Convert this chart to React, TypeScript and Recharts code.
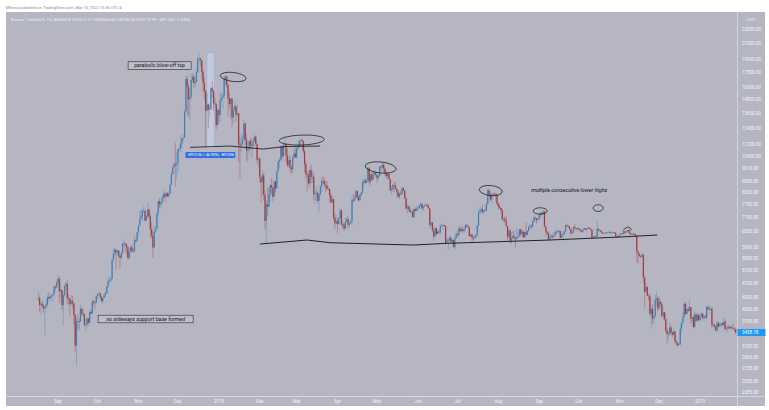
import React from "react";
import {
  ComposedChart,
  Bar,
  XAxis,
  YAxis,
  ReferenceArea,
  ReferenceLine,
  ReferenceDot,
} from "recharts";

// BTC/USDT daily, Binance, 17 Aug 2017 -> 28 Jan 2019 (day 0 = 17 Aug 2017)
const firstOpen = 4261;

const closes = [
  [4285, 4108, 4139, 4086, 4016, 4040, 4114, 4316, 4280, 4337, 4347, 4390, 4597, 4583, 4735],
  [4834, 4472, 4509, 4100, 4366, 4619, 4691, 4282, 4258, 4130, 4208, 4150, 3857, 3189, 3700, 3714, 3700, 4010, 3900, 3872, 3630, 3632, 3776, 3675, 3928, 3892, 4200, 4174, 4163, 4338],
  [4403, 4409, 4310, 4208, 4292, 4369, 4423, 4611, 4772, 4781, 4826, 5447, 5640, 5800, 5710, 5760, 5595, 5512, 5683, 6010, 6024, 5982, 5904, 5510, 5730, 5888, 5767, 5732, 6153, 6130, 6468],
  [6740, 7030, 7161, 7390, 7390, 6960, 7130, 7459, 7143, 6590, 6339, 5878, 6500, 6602, 7281, 7850, 7700, 7790, 8040, 8200, 8071, 8250, 8100, 8234, 8700, 9283, 9719, 9892, 9850, 9940],
  [10860, 10912, 11246, 11623, 11667, 13750, 16850, 16048, 14842, 15059, 16733, 17083, 16391, 16530, 17600, 19100, 19140, 18950, 17600, 16460, 15630, 13800, 14350, 13900, 13960, 15900, 15600, 14460, 14380, 12630, 13880],
  [13440, 14750, 15000, 15170, 16950, 17100, 16200, 14900, 14400, 14910, 13240, 13840, 14190, 13470, 13580, 11180, 11120, 11260, 11550, 12760, 11530, 10780, 10840, 11420, 11170, 11090, 11410, 11750, 11210, 10180, 10230],
  [9110, 8830, 9220, 8180, 6940, 7700, 7580, 8240, 8680, 8540, 8070, 8880, 8500, 9450, 10030, 10170, 11060, 10380, 11150, 11220, 10440, 9830, 10150, 9700, 9590, 10320, 10570, 10330],
  [10920, 11020, 11440, 11500, 11430, 10720, 9910, 9300, 9230, 8770, 9530, 9130, 9150, 8200, 8250, 8270, 7870, 8200, 8600, 8900, 8890, 8710, 8660, 8470, 8470, 8130, 7790, 7950, 7090, 6840, 6930],
  [6810, 7060, 7420, 6790, 6780, 6620, 6900, 7020, 6770, 6830, 6940, 7920, 7890, 8000, 8360, 8050, 7890, 8160, 8290, 8850, 8920, 8800, 8930, 9650, 8870, 9280, 8990, 9340, 9390, 9240],
  [9070, 9220, 9740, 9700, 9860, 9620, 9360, 9180, 9310, 9010, 8410, 8470, 8680, 8660, 8480, 8340, 8070, 8240, 8230, 8520, 8390, 7990, 7500, 7580, 7460, 7330, 7350, 7110, 7470, 7390, 7490],
  [7520, 7640, 7720, 7500, 7620, 7650, 7680, 7620, 7500, 6760, 6870, 6530, 6300, 6640, 6390, 6490, 6450, 6710, 6740, 6760, 6720, 6050, 6140, 6150, 6250, 6090, 6160, 5900, 6220, 6390],
  [6360, 6620, 6510, 6590, 6530, 6600, 6760, 6710, 6660, 6310, 6380, 6250, 6220, 6270, 6360, 6740, 7320, 7380, 7470, 7330, 7400, 7400, 7720, 8400, 8170, 7930, 8180, 8230, 8220, 8180, 7730],
  [7600, 7530, 7410, 7010, 7030, 6940, 6720, 6290, 6530, 6140, 6230, 6320, 6250, 6190, 6270, 6310, 6580, 6390, 6490, 6260, 6470, 6360, 6530, 6690, 6730, 6700, 6910, 7090, 7050, 6980, 7020],
  [7190, 7280, 7260, 7360, 6700, 6500, 6410, 6180, 6250, 6320, 6300, 6330, 6480, 6480, 6520, 6500, 6250, 6350, 6390, 6490, 6760, 6720, 6700, 6590, 6420, 6460, 6680, 6640, 6610, 6630],
  [6590, 6520, 6480, 6580, 6630, 6570, 6600, 6650, 6620, 6580, 6250, 6290, 6310, 6290, 6610, 6550, 6530, 6470, 6420, 6430, 6450, 6460, 6460, 6480, 6440, 6440, 6460, 6450, 6310, 6290, 6310],
  [6380, 6420, 6400, 6510, 6450, 6500, 6550, 6460, 6380, 6400, 6410, 6370, 6310, 5740, 5650, 5580, 5550, 5620, 4870, 4460, 4600, 4350, 4330, 3880, 4010, 3770, 3820, 4250, 4280, 4020],
  [4190, 4140, 3840, 3930, 3760, 3500, 3420, 3440, 3570, 3460, 3410, 3480, 3270, 3240, 3200, 3210, 3540, 3680, 3810, 4140, 3880, 4000, 3960, 4050, 3770, 3800, 3580, 3870, 3720, 3860, 3740],
  [3830, 3890, 3790, 3820, 3790, 4060, 4000, 4000, 4010, 3630, 3630, 3590, 3500, 3670, 3590, 3630, 3660, 3620, 3700, 3530, 3550, 3580, 3550, 3580, 3560, 3550, 3530, 3458.18],
].flat();

const highs = [
  [4485, 4371, 4184, 4211, 4119, 4104, 4265, 4371, 4453, 4367, 4400, 4399, 4625, 4646, 4770],
  [4939, 4892, 4714, 4527, 4484, 4662, 4745, 4789, 4394, 4299, 4370, 4340, 4172, 3876, 3800, 3884, 3775, 4120, 4050, 4010, 3900, 3750, 3809, 3780, 3970, 3990, 4228, 4240, 4190, 4360],
  [4403, 4470, 4432, 4358, 4340, 4420, 4460, 4628, 4870, 4920, 4880, 5450, 5853, 5840, 5800, 5800, 5770, 5570, 5700, 6070, 6200, 6050, 6050, 5860, 5760, 5950, 5980, 5850, 6345, 6190, 6470],
  [6770, 7375, 7450, 7480, 7600, 7440, 7200, 7780, 7380, 7282, 6870, 6500, 6740, 6700, 7299, 7880, 8000, 7850, 8100, 8300, 8370, 8300, 8300, 8350, 8780, 9430, 9750, 10000, 11300, 10630],
  [10900, 11140, 11830, 11650, 11900, 13850, 17170, 17200, 16300, 15800, 17400, 17500, 17300, 16900, 17900, 19200, 19798, 19200, 18800, 17900, 17000, 15700, 15400, 14400, 14500, 16100, 16600, 15700, 15000, 14500, 14000],
  [13900, 15500, 15400, 15400, 17170, 17250, 17200, 16300, 15400, 14950, 14900, 14100, 14650, 14300, 14350, 13600, 11700, 12000, 11850, 13000, 12750, 11900, 11350, 11500, 11700, 11600, 11600, 12000, 11800, 11270, 10380],
  [10300, 9100, 9500, 9380, 8400, 7880, 8560, 8560, 8730, 9080, 8550, 8950, 8880, 9500, 10200, 10300, 11100, 11080, 11250, 11780, 11300, 10900, 10400, 10500, 9800, 10400, 10900, 11000],
  [11090, 11200, 11500, 11530, 11700, 11450, 10890, 10100, 9400, 9490, 9720, 9880, 9480, 9370, 8400, 8600, 8350, 8250, 8700, 9050, 9180, 9100, 8900, 8900, 8650, 8500, 8240, 8100, 7980, 7290, 7220],
  [7050, 7120, 7520, 7430, 6930, 6860, 7070, 7110, 7180, 6890, 6970, 8010, 8230, 8190, 8430, 8420, 8160, 8230, 8300, 8930, 9030, 9050, 9000, 9730, 9760, 9300, 9390, 9480, 9550, 9440],
  [9240, 9250, 9800, 9790, 9990, 9950, 9680, 9460, 9370, 9380, 9030, 8630, 8750, 8880, 8850, 8500, 8430, 8260, 8380, 8590, 8560, 8400, 8030, 7730, 7650, 7620, 7420, 7440, 7530, 7560, 7620],
  [7600, 7700, 7760, 7760, 7640, 7690, 7750, 7700, 7690, 7500, 6900, 6900, 6620, 6700, 6660, 6550, 6590, 6800, 6830, 6800, 6790, 6740, 6250, 6250, 6340, 6290, 6200, 6170, 6300, 6530],
  [6440, 6670, 6700, 6750, 6690, 6620, 6790, 6800, 6800, 6690, 6400, 6390, 6340, 6310, 6400, 6760, 7450, 7590, 7550, 7690, 7440, 7560, 7800, 8480, 8490, 8300, 8280, 8230, 8290, 8270, 8190],
  [7750, 7730, 7530, 7500, 7080, 7160, 7150, 6730, 6630, 6580, 6460, 6500, 6540, 6250, 6620, 6480, 6620, 6600, 6590, 6530, 6490, 6890, 6550, 6730, 6800, 6780, 6950, 7140, 7140, 7070, 7080],
  [7270, 7330, 7340, 7400, 7390, 6720, 6540, 6470, 6440, 6380, 6410, 6350, 6530, 6590, 6570, 6520, 6550, 6400, 6530, 6530, 6790, 6820, 6780, 6740, 6600, 6540, 6720, 6800, 6640, 6660],
  [6640, 6600, 6520, 6600, 6650, 6630, 6610, 6700, 6660, 6620, 6580, 6300, 6320, 6360, 6900, 6620, 6570, 6550, 6480, 6450, 6470, 6490, 6480, 6530, 6490, 6470, 6470, 6480, 6480, 6330, 6340],
  [6400, 6450, 6420, 6520, 6500, 6510, 6600, 6560, 6460, 6420, 6430, 6450, 6400, 6330, 5750, 5670, 5600, 5680, 5640, 4930, 4700, 4600, 4380, 4420, 4090, 4130, 3830, 4380, 4450, 4340],
  [4310, 4260, 4150, 4050, 3930, 3890, 3560, 3500, 3680, 3620, 3470, 3540, 3490, 3300, 3250, 3250, 3650, 3690, 3920, 4150, 4200, 4010, 4060, 4240, 4050, 3860, 3840, 3950, 3920, 3900, 3890],
  [3850, 3920, 3880, 3840, 3870, 4090, 4070, 4110, 4060, 4050, 3690, 3650, 3610, 3720, 3700, 3690, 3670, 3680, 3800, 3760, 3580, 3630, 3620, 3600, 3590, 3660, 3560, 3540],
].flat();

const lows = [
  [4200, 3938, 3850, 4033, 3911, 3400, 4013, 4085, 4247, 4212, 4285, 4200, 4360, 4491, 4550],
  [4654, 4160, 4299, 3972, 3603, 4308, 4499, 4142, 4100, 3820, 4096, 4045, 3611, 3050, 2817, 3500, 3521, 3695, 3836, 3829, 3594, 3505, 3590, 3624, 3666, 3874, 3882, 4105, 4002, 4148],
  [4250, 4377, 4250, 4165, 4142, 4312, 4320, 4400, 4560, 4730, 4725, 4820, 5380, 5570, 5100, 5580, 5515, 5150, 5460, 5620, 5890, 5700, 5612, 5460, 5450, 5680, 5690, 5700, 5900, 6040, 6100],
  [6370, 6940, 7020, 6940, 7300, 6940, 6960, 7060, 7040, 6250, 6200, 5507, 5860, 6450, 6600, 7150, 7500, 7530, 7690, 7950, 7800, 8050, 8030, 8010, 8230, 8700, 9280, 9680, 8600, 9000],
  [9400, 10690, 10650, 10900, 11400, 11650, 13750, 13400, 13250, 13000, 14800, 16500, 15900, 16050, 16600, 17500, 18800, 18200, 16800, 15500, 14800, 10961, 13800, 12400, 13300, 13900, 15000, 13800, 14100, 12300, 12600],
  [12750, 12900, 14600, 14000, 14900, 16200, 15900, 13300, 14000, 13131, 12500, 12800, 13800, 12900, 13400, 10000, 9035, 10700, 11000, 11500, 11100, 10100, 10000, 10600, 10900, 10300, 10850, 11400, 11100, 9930, 9700],
  [8800, 7800, 8100, 7900, 6600, 6000, 7150, 7600, 7800, 8150, 7850, 8060, 8300, 8500, 9400, 9700, 10070, 10100, 10300, 11000, 10000, 9700, 9650, 9400, 9300, 9380, 10220, 10300],
  [10240, 10800, 11000, 11070, 11380, 10560, 9400, 9050, 8330, 8700, 8550, 8780, 8800, 7930, 7700, 7900, 7750, 7320, 8100, 8300, 8760, 8500, 8300, 8450, 8370, 7840, 7760, 7730, 6950, 6600, 6800],
  [6430, 6770, 7020, 6710, 6600, 6500, 6600, 6880, 6620, 6650, 6820, 6750, 7760, 7830, 8000, 7900, 7820, 7880, 8100, 8210, 8600, 8750, 8800, 8920, 8730, 8650, 8890, 8920, 9200, 9110],
  [8800, 9000, 9160, 9500, 9680, 9420, 9200, 9050, 8970, 9000, 8350, 8200, 8340, 8300, 8450, 8100, 8020, 7920, 8150, 8170, 8350, 7950, 7430, 7280, 7360, 7300, 7240, 7080, 7060, 7330, 7360],
  [7360, 7480, 7590, 7460, 7380, 7530, 7640, 7570, 7500, 6630, 6700, 6500, 6120, 6280, 6380, 6380, 6440, 6390, 6700, 6560, 6700, 6000, 6040, 5780, 6100, 6070, 6030, 5860, 5800, 6210],
  [6270, 6290, 6480, 6450, 6450, 6450, 6510, 6680, 6640, 6290, 6290, 6080, 6140, 6200, 6250, 6340, 6680, 7250, 7280, 7280, 7230, 7380, 7370, 7700, 8050, 7850, 7800, 8080, 8120, 7850, 7650],
  [7450, 7460, 7280, 6960, 6880, 6850, 6680, 6120, 6200, 6030, 6000, 6200, 6170, 5880, 6190, 6220, 6300, 6290, 6310, 6240, 6250, 6250, 6350, 6450, 6660, 6580, 6650, 6870, 6960, 6810, 6930],
  [7000, 7120, 7190, 7240, 6680, 6300, 6360, 6140, 6140, 6240, 6230, 6200, 6300, 6400, 6470, 6420, 6230, 6250, 6120, 6370, 6480, 6680, 6680, 6560, 6350, 6400, 6440, 6590, 6520, 6550],
  [6560, 6500, 6440, 6470, 6550, 6560, 6530, 6590, 6600, 6540, 6200, 6220, 6280, 6280, 6270, 6500, 6500, 6430, 6390, 6410, 6420, 6430, 6440, 6450, 6430, 6420, 6430, 6440, 6260, 6270, 6260],
  [6300, 6370, 6380, 6360, 6400, 6430, 6500, 6430, 6350, 6370, 6350, 6350, 6300, 5380, 5310, 5530, 5500, 5520, 4700, 4030, 4430, 4340, 4220, 3820, 3550, 3650, 3650, 3800, 4090, 3950],
  [3970, 4080, 3800, 3760, 3740, 3460, 3230, 3300, 3390, 3400, 3360, 3400, 3230, 3180, 3156, 3190, 3200, 3460, 3650, 3810, 3860, 3860, 3930, 3960, 3650, 3700, 3550, 3560, 3710, 3700, 3700],
  [3700, 3790, 3750, 3730, 3780, 3760, 3980, 3960, 3980, 3550, 3580, 3550, 3480, 3490, 3580, 3590, 3580, 3600, 3610, 3500, 3500, 3460, 3530, 3540, 3520, 3540, 3470, 3410],
].flat();

// time axis: first day of each month, as day index
const monthTicks = [15, 45, 76, 106, 137, 168, 196, 227, 257, 288, 318, 349, 380, 410, 441, 471, 502];
const monthLabels = ["Sep", "Oct", "Nov", "Dec", "2018", "Feb", "Mar", "Apr", "May", "Jun", "Jul", "Aug", "Sep", "Oct", "Nov", "Dec", "2019"];

const priceTicks = [
  23000, 21000, 19000, 17500, 16000, 14800, 13600, 12400, 11200, 10400, 9610, 8900, 8300,
  7700, 7100, 6500, 5900, 5500, 5100, 4700, 4300, 4000, 3700, 3180, 2965, 2755, 2555, 2385,
];

// hand drawn annotations (day index, price)
const supportLine = [
  { d: 168.3, p: 6008 }, { d: 203.9, p: 6161 }, { d: 221.4, p: 6057 }, { d: 284.4, p: 5970 },
  { d: 310.2, p: 6035 }, { d: 335.2, p: 6073 }, { d: 388.3, p: 6161 }, { d: 441.4, p: 6277 },
  { d: 469.5, p: 6355 },
];
const marchLine = [
  { d: 115.2, p: 10987 }, { d: 145.5, p: 11078 }, { d: 170.6, p: 10871 }, { d: 187.3, p: 11043 },
  { d: 213.8, p: 11078 },
];
const circles = [
  { d: 147.8, p: 17050, rx: 13, ry: 4.5, rot: 7 },
  { d: 199.8, p: 11500, rx: 22.5, ry: 5, rot: -2 },
  { d: 259.7, p: 9690, rx: 15.5, ry: 5.5, rot: 6 },
  { d: 343.2, p: 8390, rx: 11.5, ry: 5, rot: 6 },
  { d: 380.7, p: 7385, rx: 7, ry: 3.2, rot: 0 },
  { d: 424.7, p: 7520, rx: 5, ry: 3.4, rot: 0 },
];

const PANEL = "#b5b6c2";
const UP = "#3d7fb8";
const DOWN = "#a33b3b";
const AXIS_TEXT = "#f3f4f7";
const FONT = "Roboto, 'Liberation Sans', sans-serif";

const candles = closes.map((c, i) => {
  const o = i === 0 ? firstOpen : closes[i - 1];
  const h = Math.max(highs[i] ?? c, o, c);
  const l = Math.min(lows[i] ?? c, o, c);
  return { d: i, open: o, close: c, high: h, low: l, range: [l, h] };
});
const lastClose = closes[closes.length - 1];

const Candle = (props: any) => {
  const { x, y, width, height, payload } = props;
  if (!payload) return null;
  const top = Math.min(y, y + height);
  const bot = Math.max(y, y + height);
  const lh = Math.log(payload.high);
  const span = lh - Math.log(payload.low) || 1;
  const toY = (p: number) => top + ((bot - top) * (lh - Math.log(p))) / span;
  const cx = x + width / 2;
  const color = payload.close >= payload.open ? UP : DOWN;
  const yo = toY(payload.open);
  const yc = toY(payload.close);
  return (
    <g>
      <line x1={cx} x2={cx} y1={top} y2={bot} stroke={color} strokeOpacity={0.55} strokeWidth={0.7} />
      <rect x={cx - 0.6} y={Math.min(yo, yc)} width={1.2} height={Math.max(0.8, Math.abs(yo - yc))} fill={color} />
    </g>
  );
};

const ellipseShape = (rx: number, ry: number, rot: number) => (props: any) => (
  <ellipse
    cx={props.cx}
    cy={props.cy}
    rx={rx}
    ry={ry}
    transform={`rotate(${rot} ${props.cx} ${props.cy})`}
    fill="none"
    stroke="#141414"
    strokeWidth={0.7}
  />
);

const noteShape = (text: string, w: number, boxed: boolean) => (props: any) => (
  <g>
    {boxed && (
      <rect x={props.cx - w / 2} y={props.cy - 3.8} width={w} height={7.6} fill="#bdbec9" stroke="#2a2a2a" strokeWidth={0.6} />
    )}
    <text x={props.cx} y={props.cy + 1.9} textAnchor="middle" fontSize={5.4} fontStyle="italic" fill="#111" fontFamily={FONT}>
      {text}
    </text>
  </g>
);

const squiggle = (props: any) => (
  <path
    d={`M${props.cx - 5} ${props.cy + 1.5} q3 -5 7 -2.5 q2 1.5 -0.5 3`}
    fill="none"
    stroke="#141414"
    strokeWidth={0.7}
  />
);

const measureTag = (props: any) => (
  <g>
    <rect x={props.cx - 25} y={props.cy - 3} width={50} height={6} rx={1} fill="#2f6fe0" />
    <text x={props.cx} y={props.cy + 1.3} textAnchor="middle" fontSize={3.6} fill="#fff" fontFamily={FONT}>
      −8913.06 (−46.90%) −891306
    </text>
  </g>
);

const priceTag = (props: any) => (
  <g>
    <rect x={props.cx + 0.5} y={props.cy - 3.5} width={28} height={7} fill="#2196f3" />
    <text x={props.cx + 5} y={props.cy + 1.6} fontSize={4.5} fill="#fff" fontFamily={FONT}>
      {lastClose.toFixed(2)}
    </text>
  </g>
);

export default function App() {
  return (
    <div style={{ position: "absolute", left: 0, top: 0, width: 769, height: 410, background: "#fff", overflow: "hidden", fontFamily: FONT }}>
      <svg width={769} height={410} style={{ position: "absolute", left: 0, top: 0 }}>
        <text x={6} y={9} fontSize={4} fill="#8a8a8a" fontFamily={FONT}>
          Mhmis published on TradingView.com, Mar 15, 2022 13:36 UTC-4
        </text>
        <rect x={6} y={12} width={759} height={394} fill={PANEL} />
        <line x1={737.5} x2={737.5} y1={12} y2={406} stroke="#d4d5dd" strokeWidth={1} />
        <line x1={6} x2={765} y1={396.5} y2={396.5} stroke="#d4d5dd" strokeWidth={1} />
        <text x={11} y={20.5} fontSize={4.2} fill="#eceef3" fontFamily={FONT}>
          Bitcoin / TetherUS, 1D, BINANCE  O39671.27  H39804.68  L38098.33  C39179.99  −491.28 (−1.24%)
        </text>
        <text x={751} y={21} textAnchor="middle" fontSize={3.8} fill="#eceef3" fontFamily={FONT}>
          USDT
        </text>
      </svg>
      <div style={{ position: "absolute", left: 0, top: 0 }}>
        <ComposedChart width={769} height={410} data={candles} margin={{ top: 14, right: 0, bottom: 4, left: 8 }} barCategoryGap={0}>
          <XAxis
            dataKey="d"
            type="number"
            domain={[-23, 530]}
            allowDataOverflow
            ticks={monthTicks}
            interval={0}
            tickFormatter={(v: number) => monthLabels[monthTicks.indexOf(v)]}
            axisLine={false}
            tickLine={false}
            tickSize={0}
            tickMargin={4}
            height={10}
            tick={{ fill: AXIS_TEXT, fontSize: 4.5, fontFamily: FONT }}
          />
          <YAxis
            orientation="right"
            scale="log"
            domain={[2326, 25265]}
            allowDataOverflow
            ticks={priceTicks}
            interval={0}
            tickFormatter={(v: number) => v.toFixed(2)}
            axisLine={false}
            tickLine={false}
            tickSize={0}
            tickMargin={5}
            width={32}
            tick={{ fill: AXIS_TEXT, fontSize: 4.5, fontFamily: FONT }}
          />
          <ReferenceArea x1={128} x2={133.4} y1={10940} y2={19800} fill="#c9d7ec" fillOpacity={0.65} stroke="#9fb6da" strokeWidth={0.6} />
          <Bar dataKey="range" barSize={1.2} shape={Candle} isAnimationActive={false} />
          {supportLine.slice(1).map((pt, i) => (
            <ReferenceLine key={`s${i}`} segment={[{ x: supportLine[i].d, y: supportLine[i].p }, { x: pt.d, y: pt.p }]} stroke="#111" strokeWidth={0.9} />
          ))}
          {marchLine.slice(1).map((pt, i) => (
            <ReferenceLine key={`m${i}`} segment={[{ x: marchLine[i].d, y: marchLine[i].p }, { x: pt.d, y: pt.p }]} stroke="#111" strokeWidth={0.8} />
          ))}
          {circles.map((c, i) => (
            <ReferenceDot key={`c${i}`} x={c.d} y={c.p} shape={ellipseShape(c.rx, c.ry, c.rot)} />
          ))}
          <ReferenceDot x={447.5} y={6598} shape={squiggle} />
          <ReferenceDot x={92} y={18310} shape={noteShape("parabolic blow-off top", 63, true)} />
          <ReferenceDot x={81.4} y={3762} shape={noteShape("no sideways support base formed", 95, true)} />
          <ReferenceDot x={402.8} y={8420} shape={noteShape("multiple consecutive lower highs", 90, false)} />
          <ReferenceDot x={130.5} y={10471} shape={measureTag} />
          <ReferenceDot x={530} y={lastClose} ifOverflow="visible" shape={priceTag} />
        </ComposedChart>
      </div>
    </div>
  );
}
